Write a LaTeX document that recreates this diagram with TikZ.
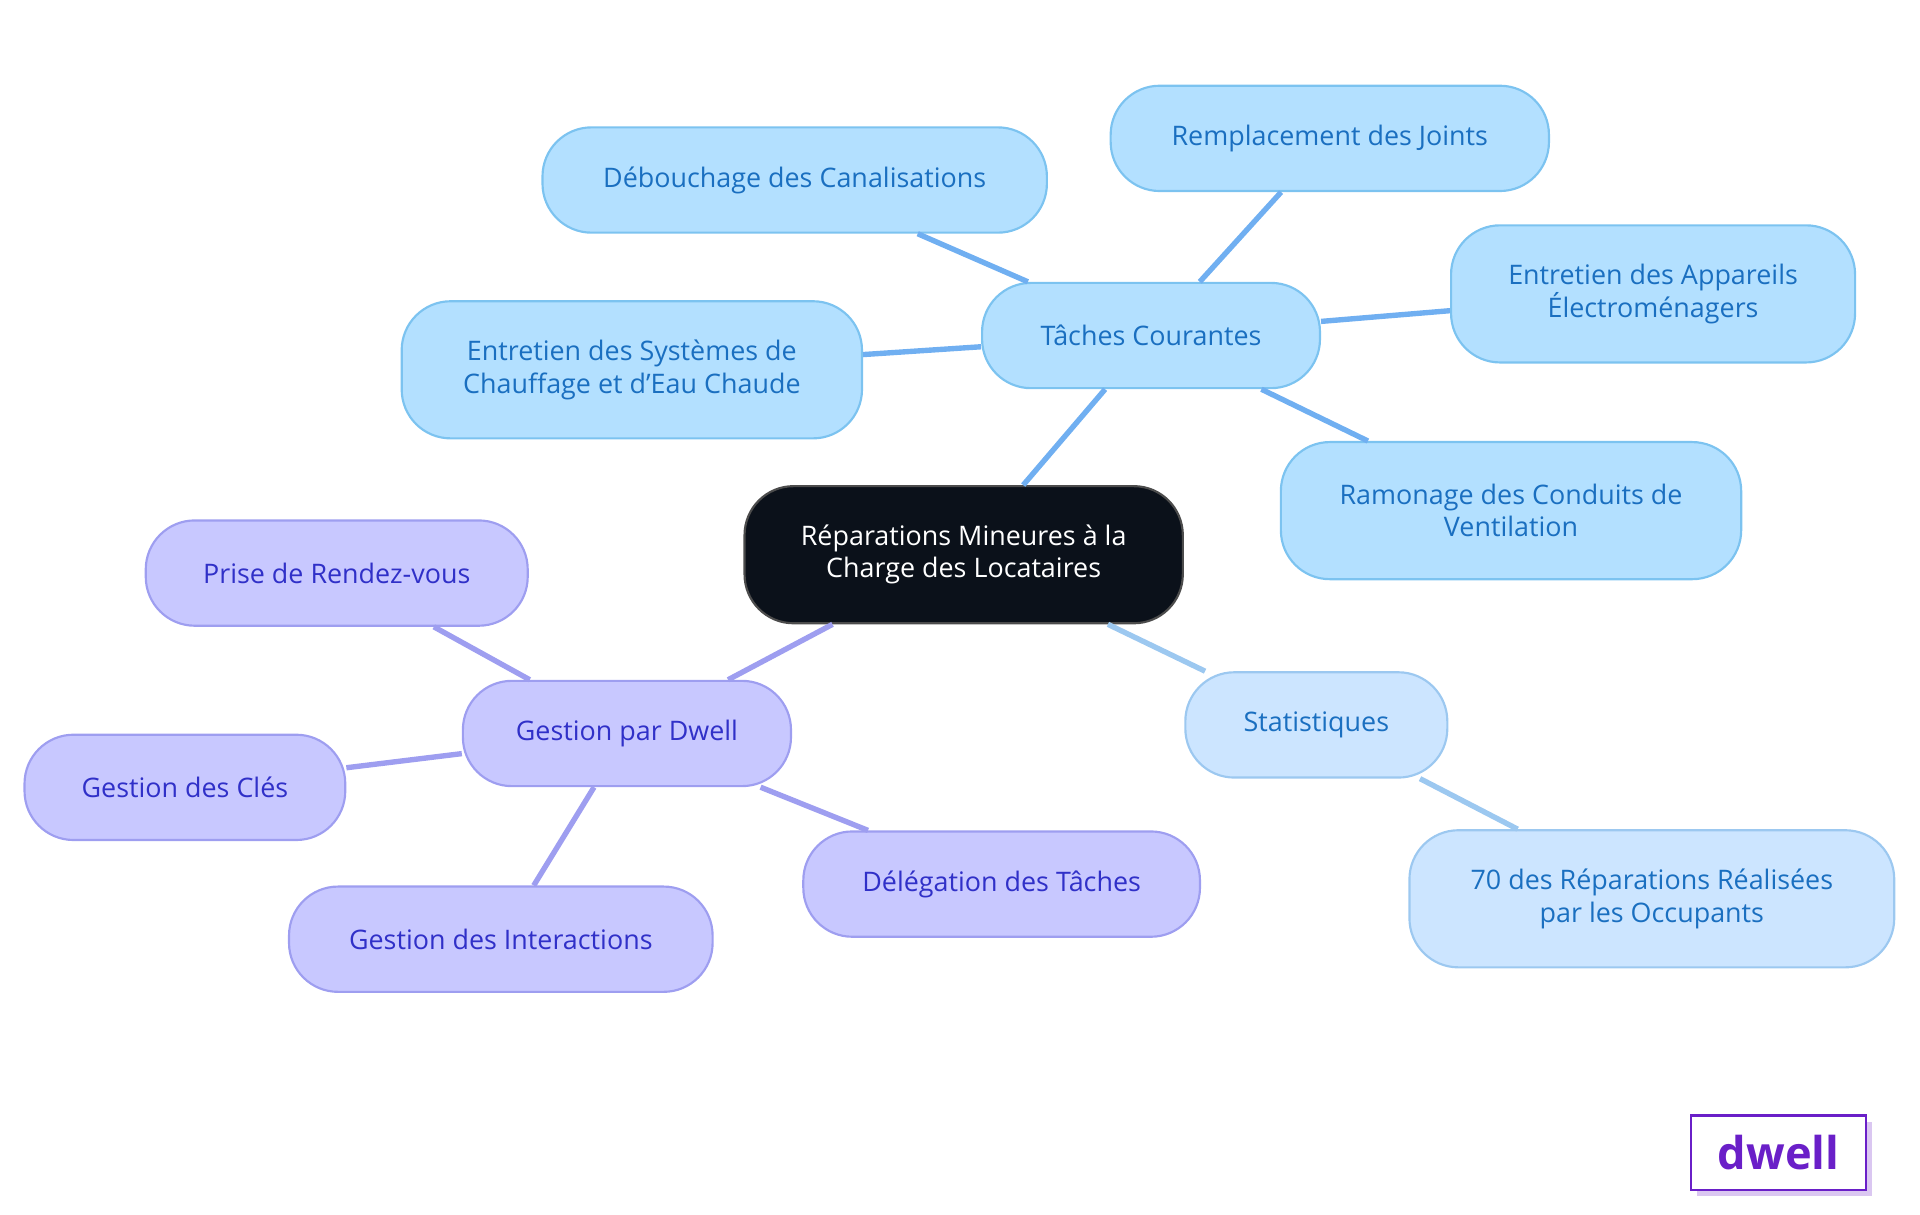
\documentclass[tikz,border=0pt]{standalone}
\usepackage{fontspec}
\setmainfont{Open Sans}
\usetikzlibrary{positioning}
\definecolor{rootfill}{HTML}{0B111A}
\definecolor{bluefill}{HTML}{B3E0FF}
\definecolor{blueline}{HTML}{7CC3F0}
\definecolor{bluetext}{HTML}{1A6FC0}
\definecolor{statfill}{HTML}{CCE5FF}
\definecolor{statline}{HTML}{9CC8F0}
\definecolor{purpfill}{HTML}{C8C8FF}
\definecolor{purpline}{HTML}{9E9EF0}
\definecolor{purptext}{HTML}{3030C8}
\definecolor{logo}{HTML}{6A1FC8}
\tikzset{
  box/.style={rounded corners=0.8cm, line width=1pt, align=center, font=\fontsize{12.5}{15}\selectfont, inner sep=0pt},
  root/.style={box, fill=rootfill, draw=black!70, text=white},
  task/.style={box, fill=bluefill, draw=blueline, text=bluetext},
  stat/.style={box, fill=statfill, draw=statline, text=bluetext},
  dwell/.style={box, fill=purpfill, draw=purpline, text=purptext},
  link/.style={line width=2.5pt}
}
\begin{document}
\begin{tikzpicture}[x=0.02cm, y=-0.02cm]
\useasboundingbox (0,0) rectangle (1568,992);

% center node
\node[root, minimum width=7.16cm, minimum height=2.24cm] (rep) at (787,453) {Réparations Mineures à la\\Charge des Locataires};

% blue branch
\node[task, minimum width=5.52cm, minimum height=1.72cm] (taches) at (940,274) {Tâches Courantes};
\node[task, minimum width=8.24cm, minimum height=1.72cm] (debouch) at (649,147) {Débouchage des Canalisations};
\node[task, minimum width=7.16cm, minimum height=1.72cm] (joints) at (1086,113) {Remplacement des Joints};
\node[task, minimum width=6.6cm, minimum height=2.24cm] (appareils) at (1350,240) {Entretien des Appareils\\Électroménagers};
\node[task, minimum width=7.52cm, minimum height=2.24cm] (chauffage) at (516,302) {Entretien des Systèmes de\\Chauffage et d'Eau Chaude};
\node[task, minimum width=7.52cm, minimum height=2.24cm] (ramonage) at (1234,417) {Ramonage des Conduits de\\Ventilation};

% statistics branch
\node[stat, minimum width=4.28cm, minimum height=1.72cm] (stats) at (1075,592) {Statistiques};
\node[stat, minimum width=7.92cm, minimum height=2.24cm] (occup) at (1349,734) {70 des Réparations Réalisées\\par les Occupants};

% purple branch
\node[dwell, minimum width=5.36cm, minimum height=1.72cm] (gestion) at (512,599) {Gestion par Dwell};
\node[dwell, minimum width=6.24cm, minimum height=1.72cm] (rdv) at (275,468) {Prise de Rendez-vous};
\node[dwell, minimum width=5.24cm, minimum height=1.72cm] (cles) at (151,643) {Gestion des Clés};
\node[dwell, minimum width=6.92cm, minimum height=1.72cm] (inter) at (409,767) {Gestion des Interactions};
\node[dwell, minimum width=6.48cm, minimum height=1.72cm] (deleg) at (818,722) {Délégation des Tâches};

% connectors
\draw[link, blueline!90!blue] (rep) -- (taches);
\foreach \t in {debouch, joints, appareils, chauffage, ramonage}
  \draw[link, blueline!90!blue] (taches) -- (\t);
\draw[link, statline] (rep) -- (stats);
\draw[link, statline] (stats) -- (occup);
\draw[link, purpline] (rep) -- (gestion);
\foreach \t in {rdv, cles, inter, deleg}
  \draw[link, purpline] (gestion) -- (\t);

% logo
\fill[logo!25] (1386,916) rectangle (1529,977);
\node[draw=logo, fill=white, line width=1pt, minimum width=2.86cm, minimum height=1.22cm, inner sep=0pt, text=logo, font=\fontsize{21}{24}\selectfont\bfseries] (logo) at (1452.5,941.5) {dwell};
\end{tikzpicture}
\end{document}
